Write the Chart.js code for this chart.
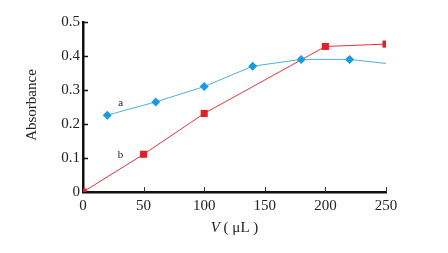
<!DOCTYPE html>
<html><head><meta charset="utf-8">
<script src="https://cdn.jsdelivr.net/npm/chart.js@4"></script>
<style>html,body{margin:0;padding:0;background:#fff}#w{width:448px;height:253px}</style>
</head><body><div id="w"><canvas id="c"></canvas></div>
<script>
const xTicks = [0, 50, 100, 150, 200, 250];
const yTicks = [0, 0.1, 0.2, 0.3, 0.4, 0.5];
const aX = [20, 60, 100, 140, 180, 220, 250];
const aY = [0.226, 0.265, 0.31, 0.37, 0.39, 0.39, 0.378];
const aMarker = [true, true, true, true, true, true, false];
const bX = [0, 50, 100, 200, 250];
const bY = [0, 0.111, 0.231, 0.428, 0.435];
const seriesLabels = [{text:'a', x:31, y:0.262}, {text:'b', x:31, y:0.108}];

const FONT = '"Liberation Serif", "Times New Roman", serif';
const inwardTicks = {
  id: 'inwardTicks',
  afterDraw(chart) {
    const ctx = chart.ctx, xs = chart.scales.x, ys = chart.scales.y, ca = chart.chartArea;
    ctx.save();
    ctx.strokeStyle = '#333'; ctx.lineWidth = 1;
    xTicks.forEach(v => { if (v === 0) return; const px = Math.round(xs.getPixelForValue(v)) + 0.5;
      ctx.beginPath(); ctx.moveTo(px, ca.bottom); ctx.lineTo(px, ca.bottom - 5); ctx.stroke(); });
    ctx.strokeStyle = '#111'; ctx.lineWidth = 1.5;
    yTicks.forEach(v => { if (v === 0) return; const py = Math.round(ys.getPixelForValue(v)) + 0.5;
      ctx.beginPath(); ctx.moveTo(ca.left, py); ctx.lineTo(ca.left + 5, py); ctx.stroke(); });
    ctx.fillStyle = '#222'; ctx.font = '11px ' + FONT; ctx.textAlign = 'center'; ctx.textBaseline = 'middle';
    seriesLabels.forEach(l => ctx.fillText(l.text, xs.getPixelForValue(l.x), ys.getPixelForValue(l.y)));
    // y title
    ctx.save();
    ctx.translate(32, (ca.top + ca.bottom) / 2 - 2);
    ctx.rotate(-Math.PI / 2);
    ctx.font = '15px ' + FONT; ctx.textAlign = 'center'; ctx.textBaseline = 'middle';
    ctx.fillText('Absorbance', 0, 0);
    ctx.restore();
    // x title with italic V
    ctx.textBaseline = 'alphabetic';
    const cx = (ca.left + ca.right) / 2, ty = 232;
    ctx.font = 'italic 15px ' + FONT; const w1 = ctx.measureText('V').width;
    ctx.font = '15px ' + FONT; const rest = ' ( μL )'; const w2 = ctx.measureText(rest).width;
    const sx = cx - (w1 + w2) / 2;
    ctx.textAlign = 'left';
    ctx.font = 'italic 15px ' + FONT; ctx.fillText('V', sx, ty);
    ctx.font = '15px ' + FONT; ctx.fillText(rest, sx + w1, ty);
    ctx.restore();
  }
};

new Chart(document.getElementById('c'), {
  type: 'scatter',
  data: { datasets: [
    { data: aX.map((x, i) => ({x, y: aY[i]})), showLine: true, borderColor: '#52aee0', borderWidth: 1,
      backgroundColor: '#1a9ae0', pointBackgroundColor: '#1a9ae0', pointBorderWidth: 0,
      pointStyle: 'rectRot', pointRadius: aMarker.map(m => m ? 4.5 : 0) },
    { data: bX.map((x, i) => ({x, y: bY[i]})), showLine: true, borderColor: '#e0353d', borderWidth: 1,
      backgroundColor: '#e02028', pointBackgroundColor: '#e02028', pointBorderWidth: 0,
      pointStyle: 'rect', pointRadius: 5 }
  ]},
  options: {
    responsive: true, maintainAspectRatio: false, animation: false,
    layout: { padding: { top: 22, right: 62, left: 0, bottom: 0 } },
    plugins: { legend: { display: false }, tooltip: { enabled: false } },
    scales: {
      x: { type: 'linear', min: 0, max: 250,
        afterBuildTicks: s => { s.ticks = xTicks.map(v => ({value: v})); },
        afterFit: s => { s.height = 61; },
        grid: { display: true, drawOnChartArea: false, drawTicks: false },
        border: { color: '#111', width: 2.5 },
        ticks: { color: '#222', font: { family: FONT, size: 15 }, padding: 5, maxRotation: 0 } },
      y: { min: 0, max: 0.5,
        afterBuildTicks: s => { s.ticks = yTicks.map(v => ({value: v})); },
        afterFit: s => { s.width = 83; },
        grid: { display: true, drawOnChartArea: false, drawTicks: false },
        border: { color: '#111', width: 2.5 },
        ticks: { color: '#222', font: { family: FONT, size: 15 }, padding: 3,
          callback: v => v === 0 ? '0' : v.toFixed(1) } }
    }
  },
  plugins: [inwardTicks]
});
</script></body></html>
